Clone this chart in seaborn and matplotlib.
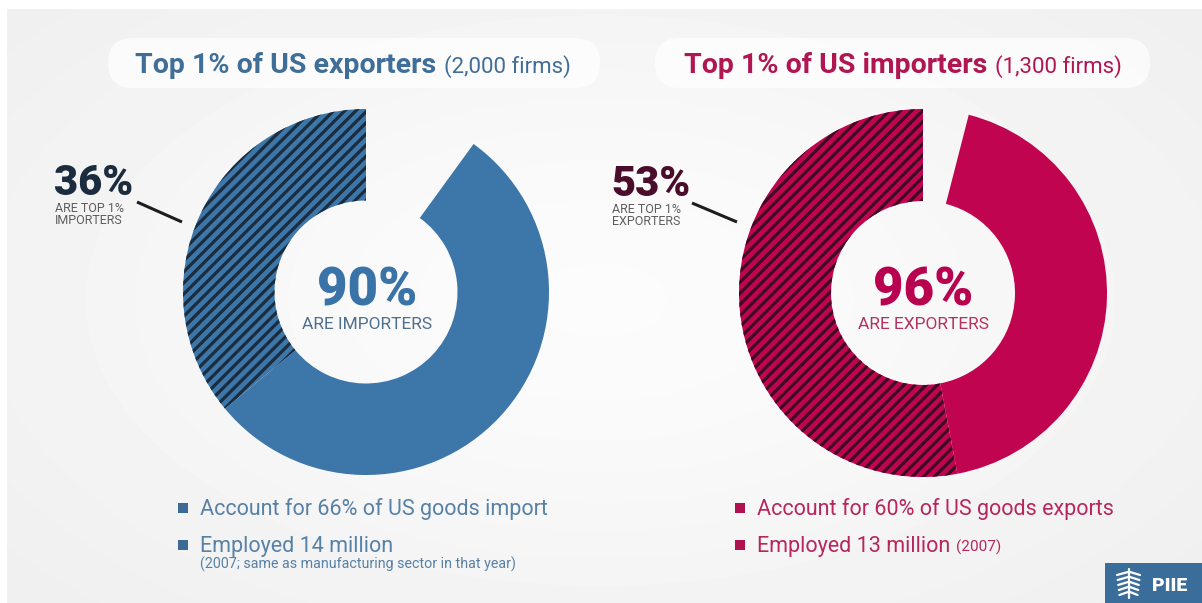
import numpy as np
import matplotlib
matplotlib.use("Agg")
import matplotlib.pyplot as plt
from matplotlib.patches import FancyBboxPatch, Rectangle
import seaborn as sns

# ---- figures shown ---------------------------------------------------------
exp_title = "Top 1% of US exporters"
exp_firms = "(2,000 firms)"
exp_share_importing = 90        # % of top exporters that import
exp_share_top_importers = 36    # % that are also top-1% importers
exp_center_label = "ARE IMPORTERS"
exp_side_label = ["ARE TOP 1%", "IMPORTERS"]
exp_notes = ["Account for 66% of US goods import", "Employed 14 million"]
exp_note_small = "(2007; same as manufacturing sector in that year)"

imp_title = "Top 1% of US importers"
imp_firms = "(1,300 firms)"
imp_share_exporting = 96        # % of top importers that export
imp_share_top_exporters = 53    # % that are also top-1% exporters
imp_center_label = "ARE EXPORTERS"
imp_side_label = ["ARE TOP 1%", "EXPORTERS"]
imp_notes = ["Account for 60% of US goods exports", "Employed 13 million"]
imp_note_small = "(2007)"

# ---- style -----------------------------------------------------------------
sns.set_theme(style="white")
plt.rcParams["font.family"] = ["Roboto", "DejaVu Sans"]
plt.rcParams["hatch.linewidth"] = 2.3

BLUE = "#3d76a9"
BLUE_DARK = "#1b2c3e"
BLUE_TEXT = "#5781a6"
RED = "#c0044f"
RED_DARK = "#3d0a22"
RED_TEXT = "#b8265d"
GREY = "#5e5e5e"

W, H = 1202, 603
fig = plt.figure(figsize=(W / 100, H / 100), dpi=100)

# paper-like backdrop: light grey edges, whiter middle
bg = fig.add_axes([0, 0, 1, 1], zorder=0)
yy, xx = np.mgrid[0:H, 0:W]
glow = np.exp(-(((xx - 600) / 650) ** 2 + ((yy - 300) / 360) ** 2))
shade = 0.925 + 0.06 * glow
bg.imshow(shade, cmap="gray", vmin=0, vmax=1, extent=[0, W, H, 0], aspect="auto",
          interpolation="bilinear")
bg.set_xlim(0, W)
bg.set_ylim(H, 0)
bg.axis("off")
# thin white frame along the top and left
bg.add_patch(Rectangle((0, 0), W, 9, color="white", lw=0))
bg.add_patch(Rectangle((0, 0), 7, H, color="white", lw=0))


def donut(cx, cy, r, total, top, face, hatch_col):
    rect = [(cx - r) / W, (H - cy - r) / H, 2 * r / W, 2 * r / H]
    ax = fig.add_axes(rect, zorder=2)
    shares = [top, total - top, 100 - total]
    wedges, _ = ax.pie(shares, startangle=90, counterclock=True, radius=1.0,
                       wedgeprops=dict(width=0.5, linewidth=0))
    wedges[0].set_facecolor(face)
    wedges[0].set_edgecolor(hatch_col)
    wedges[0].set_hatch("///")
    wedges[0].set_linewidth(0)
    wedges[1].set_facecolor(face)
    wedges[1].set_edgecolor(face)
    wedges[2].set_visible(False)
    ax.set_xlim(-1, 1)
    ax.set_ylim(-1, 1)
    ax.set_aspect("equal")
    ax.axis("off")
    return ax


donut(366, 292, 183, exp_share_importing, exp_share_top_importers, BLUE, BLUE_DARK)
donut(923, 293, 184, imp_share_exporting, imp_share_top_exporters, RED, RED_DARK)

# ---- text overlay in pixel coordinates -------------------------------------
ov = fig.add_axes([0, 0, 1, 1], zorder=3)
ov.set_xlim(0, W)
ov.set_ylim(H, 0)
ov.axis("off")
ov.patch.set_alpha(0)

# soft white pills behind the headings
for x0, x1 in [(108, 600), (655, 1150)]:
    ov.add_patch(FancyBboxPatch((x0, 38), x1 - x0, 50,
                                boxstyle="round,pad=0,rounding_size=25",
                                fc="white", ec="none", alpha=0.7, zorder=1))


def heading(x, y, title, firms, color):
    t = ov.text(x, y, title, fontsize=20.5, fontweight="bold", color=color,
                va="baseline", ha="left", zorder=2)
    fig.canvas.draw()
    bb = t.get_window_extent()
    x_end = ov.transData.inverted().transform((bb.x1, bb.y0))[0]
    ov.text(x_end + 8, y, firms, fontsize=16, color=color, va="baseline",
            ha="left", zorder=2)


heading(135, 73, exp_title, exp_firms, "#3f6f98")
heading(684, 73, imp_title, imp_firms, "#b01652")


def side_callout(x, y, value, lines, color, line_pts):
    ov.text(x, y, f"{value}%", fontsize=30, fontweight="black", color=color,
            va="baseline", ha="left")
    for i, s in enumerate(lines):
        ov.text(x + 1, y + 17 + 12 * i, s, fontsize=9, color=GREY,
                va="baseline", ha="left")
    (xa, ya), (xb, yb) = line_pts
    ov.plot([xa, xb], [ya, yb], color="#1d1d1d", lw=2.2, solid_capstyle="butt")


side_callout(54, 195, exp_share_top_importers, exp_side_label, BLUE_DARK,
             ((137, 202), (182, 222)))
side_callout(611, 196, imp_share_top_exporters, imp_side_label, "#4a0d2b",
             ((692, 203), (737, 222)))


def center_label(cx, value, label, color, label_color):
    ov.text(cx, 305, f"{value}%", fontsize=38, fontweight="black", color=color,
            va="baseline", ha="center")
    ov.text(cx, 329, label, fontsize=12.5, color=label_color,
            va="baseline", ha="center")


center_label(367, exp_share_importing, exp_center_label, "#3a73a7", "#4f6f8e")
center_label(923, imp_share_exporting, imp_center_label, "#b8024f", "#b4325f")


def notes(x, items, small, small_inline, color, bullet_color):
    ys = [515, 552]
    for y, s in zip(ys, items):
        ov.scatter([x], [y - 7], marker="s", s=45, color=bullet_color, lw=0)
        t = ov.text(x + 17, y, s, fontsize=15.5, color=color, va="baseline",
                    ha="left")
    if small_inline:
        fig.canvas.draw()
        bb = t.get_window_extent()
        x_end = ov.transData.inverted().transform((bb.x1, bb.y0))[0]
        ov.text(x_end + 6, ys[1], small, fontsize=11, color=color,
                va="baseline", ha="left")
    else:
        ov.text(x + 17, ys[1] + 17, small, fontsize=10.3, color=color,
                va="baseline", ha="left")


notes(183, exp_notes, exp_note_small, False, BLUE_TEXT, "#3a6a95")
notes(740, imp_notes, imp_note_small, True, RED_TEXT, "#b0124f")

# PIIE badge
ov.add_patch(Rectangle((1105, 563), 97, 40, color="#3b6d9b", lw=0))
for k in range(5):
    yk = 572 + 5 * k
    ov.plot([1117 + k * 0.6, 1128], [yk + 3, yk], color="white", lw=1.6)
    ov.plot([1130, 1140 - k * 0.6], [yk, yk + 3], color="white", lw=1.6)
ov.plot([1129, 1129], [569, 598], color="white", lw=1.6)
ov.text(1170, 591, "PIIE", fontsize=14, fontweight="black", color="white",
        va="baseline", ha="center")

fig.savefig("out.png", dpi=100)
